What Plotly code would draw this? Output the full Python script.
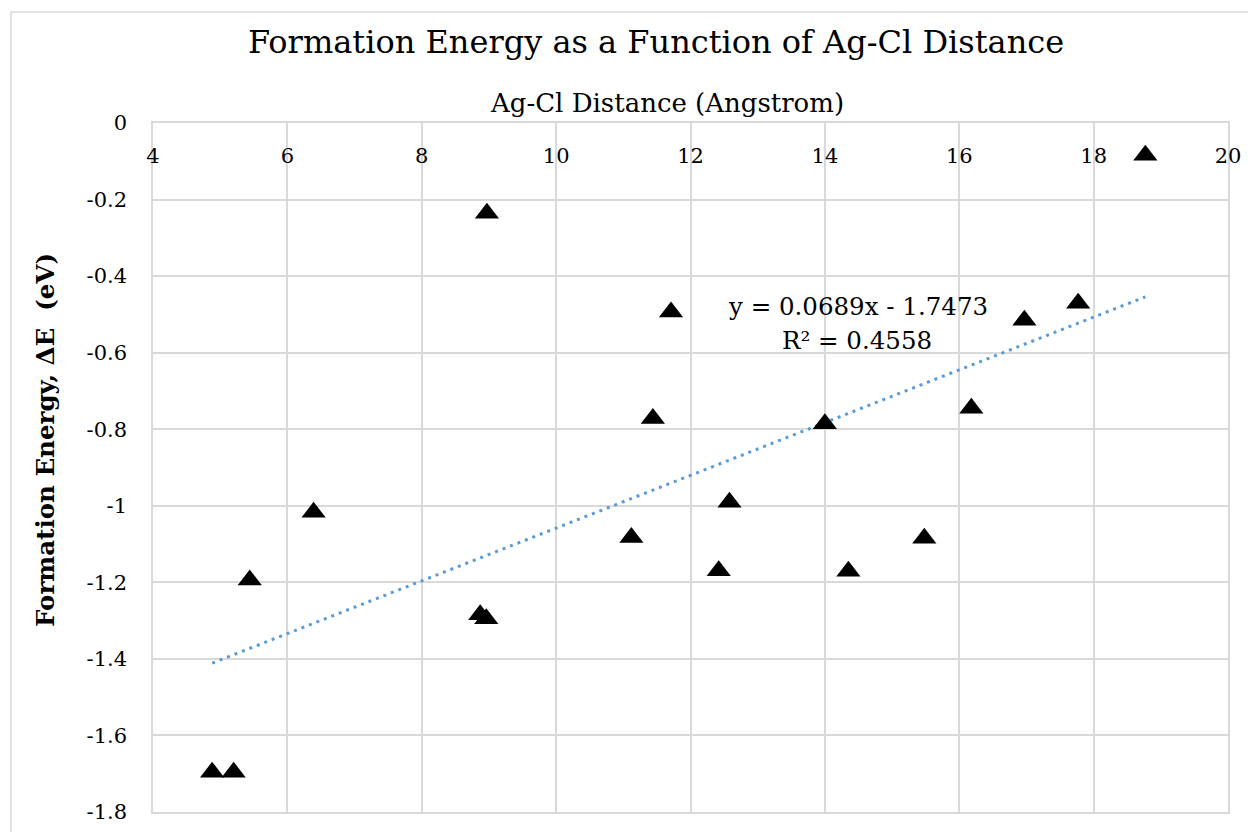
import plotly.graph_objects as go

# ---- data ----
ag_cl_distance = [4.88, 5.20, 5.44, 6.39, 8.87, 8.96, 8.97, 11.12, 11.44, 11.71,
                  12.42, 12.58, 14.00, 14.35, 15.48, 16.18, 16.97, 17.77, 18.77]
formation_energy = [-1.696, -1.696, -1.194, -1.017, -1.285, -1.295, -0.236, -1.083,
                    -0.772, -0.494, -1.170, -0.991, -0.786, -1.171, -1.085, -0.745,
                    -0.515, -0.471, -0.084]
trend_slope = 0.0689
trend_intercept = -1.7473
r_squared = 0.4558
x_ticks = [4, 6, 8, 10, 12, 14, 16, 18, 20]
y_ticks = [0, -0.2, -0.4, -0.6, -0.8, -1, -1.2, -1.4, -1.6, -1.8]

FONT = "DejaVu Serif"
GRID = "#d9d9d9"

W_FIG, H_FIG = 1248, 832
L, R, T, B = 153, 20, 123, 20
PW, PH = W_FIG - L - R, H_FIG - T - B


def px(xp):
    return (xp - L) / PW


def py(yp):
    return (H_FIG - B - yp) / PH


trend_x = [min(ag_cl_distance), max(ag_cl_distance)]
trend_y = [trend_slope * v + trend_intercept for v in trend_x]

fig = go.Figure()
fig.add_trace(go.Scatter(
    x=trend_x, y=trend_y, mode="lines",
    line=dict(color="#5B9BD5", width=3, dash="3px,5px"),
    hoverinfo="skip", showlegend=False,
))
fig.add_trace(go.Scatter(
    x=ag_cl_distance, y=formation_energy, mode="markers",
    marker=dict(symbol="triangle-up", size=21, color="black"),
    showlegend=False,
))

fig.update_layout(
    width=W_FIG, height=H_FIG,
    margin=dict(l=L, r=R, t=T, b=B, autoexpand=False),
    paper_bgcolor="white", plot_bgcolor="white",
    font=dict(family=FONT, color="black", size=21),
    xaxis=dict(
        range=[4, 20], side="top", tickvals=x_ticks,
        ticktext=[str(v) for v in x_ticks],
        showgrid=True, gridcolor=GRID, gridwidth=1.5,
        showline=True, linecolor=GRID, linewidth=1.5, mirror=True,
        zeroline=False, ticks="", ticklabelposition="inside",
        ticklabelstandoff=27, ticklabeloverflow="allow", automargin=False,
        tickfont=dict(family=FONT, size=21, color="black"),
    ),
    yaxis=dict(
        range=[-1.8, 0], tickvals=y_ticks,
        ticktext=["0" if v == 0 else ("-1" if v == -1 else f"{v:g}") for v in y_ticks],
        showgrid=True, gridcolor=GRID, gridwidth=1.5,
        showline=True, linecolor=GRID, linewidth=1.5, mirror=True,
        zeroline=False, ticks="", ticklabelstandoff=20, ticklabeloverflow="allow",
        automargin=False,
        tickfont=dict(family=FONT, size=21, color="black"),
    ),
    title=dict(
        text="Formation Energy as a Function of Ag-Cl Distance",
        x=656 / W_FIG, xanchor="center", xref="container",
        y=1 - 42 / H_FIG, yanchor="middle", yref="container",
        font=dict(family=FONT, size=32, color="black"),
        automargin=False,
    ),
)

fig.add_annotation(
    text="Ag-Cl Distance (Angstrom)", xref="paper", yref="paper",
    x=px(667), y=py(103), xanchor="center", yanchor="middle",
    showarrow=False, font=dict(family=FONT, size=26, color="black"),
)
fig.add_annotation(
    text="<b>Formation Energy, ΔE  (eV)</b>", xref="paper", yref="paper",
    x=px(46), y=py(440), xanchor="center", yanchor="middle", textangle=-90,
    showarrow=False, font=dict(family=FONT, size=24.5, color="black"),
)
fig.add_annotation(
    text=f"y = {trend_slope}x - {abs(trend_intercept)}", xref="paper", yref="paper",
    x=px(858), y=py(306), xanchor="center", yanchor="middle",
    showarrow=False, font=dict(family=FONT, size=24.5, color="black"),
)
fig.add_annotation(
    text=f"R² = {r_squared}", xref="paper", yref="paper",
    x=px(857), y=py(340), xanchor="center", yanchor="middle",
    showarrow=False, font=dict(family=FONT, size=24.5, color="black"),
)

# outer chart border
fig.add_shape(
    type="rect", xref="paper", yref="paper",
    x0=px(11), x1=px(1300), y0=py(12), y1=py(900),
    line=dict(color=GRID, width=1.5), fillcolor="rgba(0,0,0,0)", layer="below",
)

fig.write_html("out.html")
